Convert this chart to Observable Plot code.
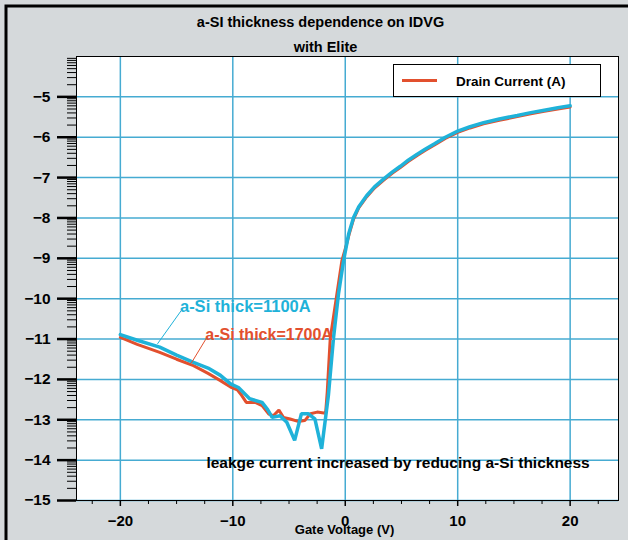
<!DOCTYPE html>
<html><head><meta charset="utf-8">
<script src="https://cdn.jsdelivr.net/npm/d3@7"></script>
<script src="https://cdn.jsdelivr.net/npm/@observablehq/plot@0.6"></script>
<style>
html,body{margin:0;padding:0;background:#d5d9db;}
#chart{width:628px;height:540px;overflow:hidden;}
</style></head><body><div id="chart"></div>
<script>
// ---- data (log10 of drain current vs gate voltage) ----
const voltage1700 = [-20,-18.5,-16.5,-15,-13.5,-12.2,-11.1,-10.2,-9.6,-9.2,-8.8,-8.0,-7.4,-6.8,-6.4,-5.9,-5.5,-4.9,-4.2,-3.6,-3.1,-2.5,-1.75,-1.6,-1.34,-0.74,-0.3,0.05,0.35,0.74,1.2,1.9,2.6,3.4,4.2,4.9,5.6,6.4,7.1,7.9,8.9,10,11.1,12.3,13.7,15.3,16.5,17.7,18.9,20];
const logId1700  = [-10.96,-11.13,-11.33,-11.5,-11.66,-11.85,-12.03,-12.19,-12.26,-12.4,-12.57,-12.57,-12.65,-12.86,-12.9,-12.76,-12.94,-12.98,-13.04,-13.02,-12.85,-12.81,-12.84,-12.3,-11.0,-9.88,-9.06,-8.72,-8.4,-8.03,-7.75,-7.48,-7.26,-7.07,-6.89,-6.75,-6.6,-6.45,-6.33,-6.2,-6.03,-5.88,-5.77,-5.67,-5.58,-5.49,-5.42,-5.36,-5.3,-5.25];
const voltage1100 = [-20,-18.5,-16.5,-15,-13.5,-12.2,-11.1,-10.2,-9.5,-8.5,-7.4,-6.9,-6.5,-5.8,-5.2,-4.5,-3.9,-3.3,-2.7,-2.1,-1.5,-1.04,-0.6,-0.15,0.3,0.74,1.2,1.9,2.6,3.4,4.2,4.9,5.6,6.4,7.1,7.9,8.9,10,11.1,12.3,13.7,15.3,16.5,17.7,18.9,20];
const logId1100  = [-10.89,-11.03,-11.2,-11.4,-11.58,-11.72,-11.9,-12.11,-12.2,-12.48,-12.57,-12.75,-12.94,-12.9,-13.06,-13.51,-12.85,-12.85,-12.98,-13.72,-12.4,-10.96,-9.88,-9.06,-8.4,-7.99,-7.72,-7.45,-7.23,-7.04,-6.86,-6.72,-6.57,-6.42,-6.3,-6.17,-6.0,-5.85,-5.74,-5.64,-5.55,-5.46,-5.39,-5.33,-5.27,-5.22];

const xTicks = [-20,-10,0,10,20];
const xMinorTicks = [-22.5,-17.5,-15,-12.5,-7.5,-5,-2.5,2.5,5,7.5,12.5,15,17.5,22.5];
const yTicks = [-15,-14,-13,-12,-11,-10,-9,-8,-7,-6,-5];
const yDecades = [-15,-14,-13,-12,-11,-10,-9,-8,-7,-6,-5];
const minorMultipliers = [2,3,4,5,6,7,8,9];

const titleLine1 = "a-SI thickness dependence on IDVG";
const titleLine2 = "with Elite";
const xLabel = "Gate Voltage (V)";
const legendLabel = "Drain Current (A)";
const label1100 = "a-Si thick=1100A";
const label1700 = "a-Si thick=1700A";
const noteText = "leakge current increased by reducing a-Si thickness";
// annotation anchor points (data units)
const label1100At = {x: -14.7, y: -10.2};
const label1700At = {x: -12.45, y: -10.9};
const leader1100 = {x1: -14.6, y1: -10.3, x2: -16.7, y2: -11.12};
const leader1700 = {x1: -12.35, y1: -10.98, x2: -13.7, y2: -11.6};
const noteAt = {x: -12.35, y: -14.08};

// ---- styles ----
const FONT = "'Liberation Sans', Arial, Helvetica, sans-serif";
const RED = "#e2502e";
const CYAN = "#1fb2d9";
const GRID = "#46abd2";

const yMinorTicks = yDecades.flatMap(b => minorMultipliers.map(k => b + Math.log10(k)));
const idx1700 = d3.range(voltage1700.length);
const idx1100 = d3.range(voltage1100.length);

const chart = Plot.plot({
  width: 628, height: 540,
  marginLeft: 76, marginRight: 10, marginTop: 56, marginBottom: 40,
  style: {background: "transparent", fontFamily: FONT, fontWeight: "bold", fontSize: "13px", color: "black", overflow: "visible"},
  x: {domain: [-23.9, 24.3], axis: null, label: null},
  y: {domain: [-15, -4], axis: null, label: null},
  marks: [
    Plot.frame({fill: "white", stroke: null}),
    Plot.gridX(xTicks, {stroke: GRID, strokeOpacity: 1, strokeWidth: 1.5}),
    Plot.gridY(yTicks, {stroke: GRID, strokeOpacity: 1, strokeWidth: 1.5}),
    Plot.frame({stroke: "black", strokeWidth: 1}),
    Plot.axisY(yMinorTicks, {tickSize: 9, tickFormat: () => "", label: null, strokeWidth: 1}),
    Plot.axisY(yTicks, {tickSize: 19, tickPadding: 7, label: null, strokeWidth: 2.5, fontSize: 15.5, fontWeight: "bold"}),
    Plot.axisX(xMinorTicks, {tickSize: 4, tickFormat: () => "", label: null, strokeWidth: 1}),
    Plot.axisX(xTicks, {tickSize: 6, tickPadding: 9, label: null, strokeWidth: 1.5, fontSize: 15, fontWeight: "bold"}),
    Plot.line(idx1700, {x: i => voltage1700[i], y: i => logId1700[i], stroke: RED, strokeWidth: 3, strokeLinejoin: "miter"}),
    Plot.line(idx1100, {x: i => voltage1100[i], y: i => logId1100[i], stroke: CYAN, strokeWidth: 3.5, strokeLinejoin: "miter"}),
    Plot.link([leader1100], {x1: "x1", y1: "y1", x2: "x2", y2: "y2", stroke: CYAN, strokeWidth: 1}),
    Plot.link([leader1700], {x1: "x1", y1: "y1", x2: "x2", y2: "y2", stroke: RED, strokeWidth: 1}),
    Plot.text([label1100At], {x: "x", y: "y", text: () => label1100, textAnchor: "start", fill: CYAN, fontSize: 16.5, fontWeight: "bold"}),
    Plot.text([label1700At], {x: "x", y: "y", text: () => label1700, textAnchor: "start", fill: RED, fontSize: 16, fontWeight: "bold"}),
    Plot.text([noteAt], {x: "x", y: "y", text: () => noteText, textAnchor: "start", fill: "black", fontSize: 15.5, fontWeight: "bold"}),
    Plot.text([titleLine1], {frameAnchor: "top", dx: -27, dy: -40, text: d => d, fontSize: 14.5, fontWeight: "bold"}),
    Plot.text([titleLine2], {frameAnchor: "top", dx: -22, dy: -15, text: d => d, fontSize: 14.5, fontWeight: "bold"}),
    Plot.text([xLabel], {frameAnchor: "bottom", dx: -3, dy: 33, text: d => d, fontSize: 13, fontWeight: "bold"})
  ]
});

document.getElementById("chart").appendChild(chart);

// decorations: figure border and legend box
const svg = d3.select(chart);
svg.append("path").attr("d", "M6,540V6H628").attr("fill", "none").attr("stroke", "black").attr("stroke-width", 3);
const lg = svg.append("g");
lg.append("rect").attr("x", 393.5).attr("y", 64.5).attr("width", 207).attr("height", 32)
  .attr("fill", "white").attr("stroke", "black").attr("stroke-width", 1);
lg.append("line").attr("x1", 402).attr("x2", 437).attr("y1", 80.5).attr("y2", 80.5)
  .attr("stroke", RED).attr("stroke-width", 3);
lg.append("text").attr("x", 456).attr("y", 81).attr("dy", "0.35em")
  .style("text-anchor", "start").style("font-size", "13.5px").style("font-weight", "bold")
  .style("font-family", FONT).attr("fill", "black").text(legendLabel);
</script></body></html>
